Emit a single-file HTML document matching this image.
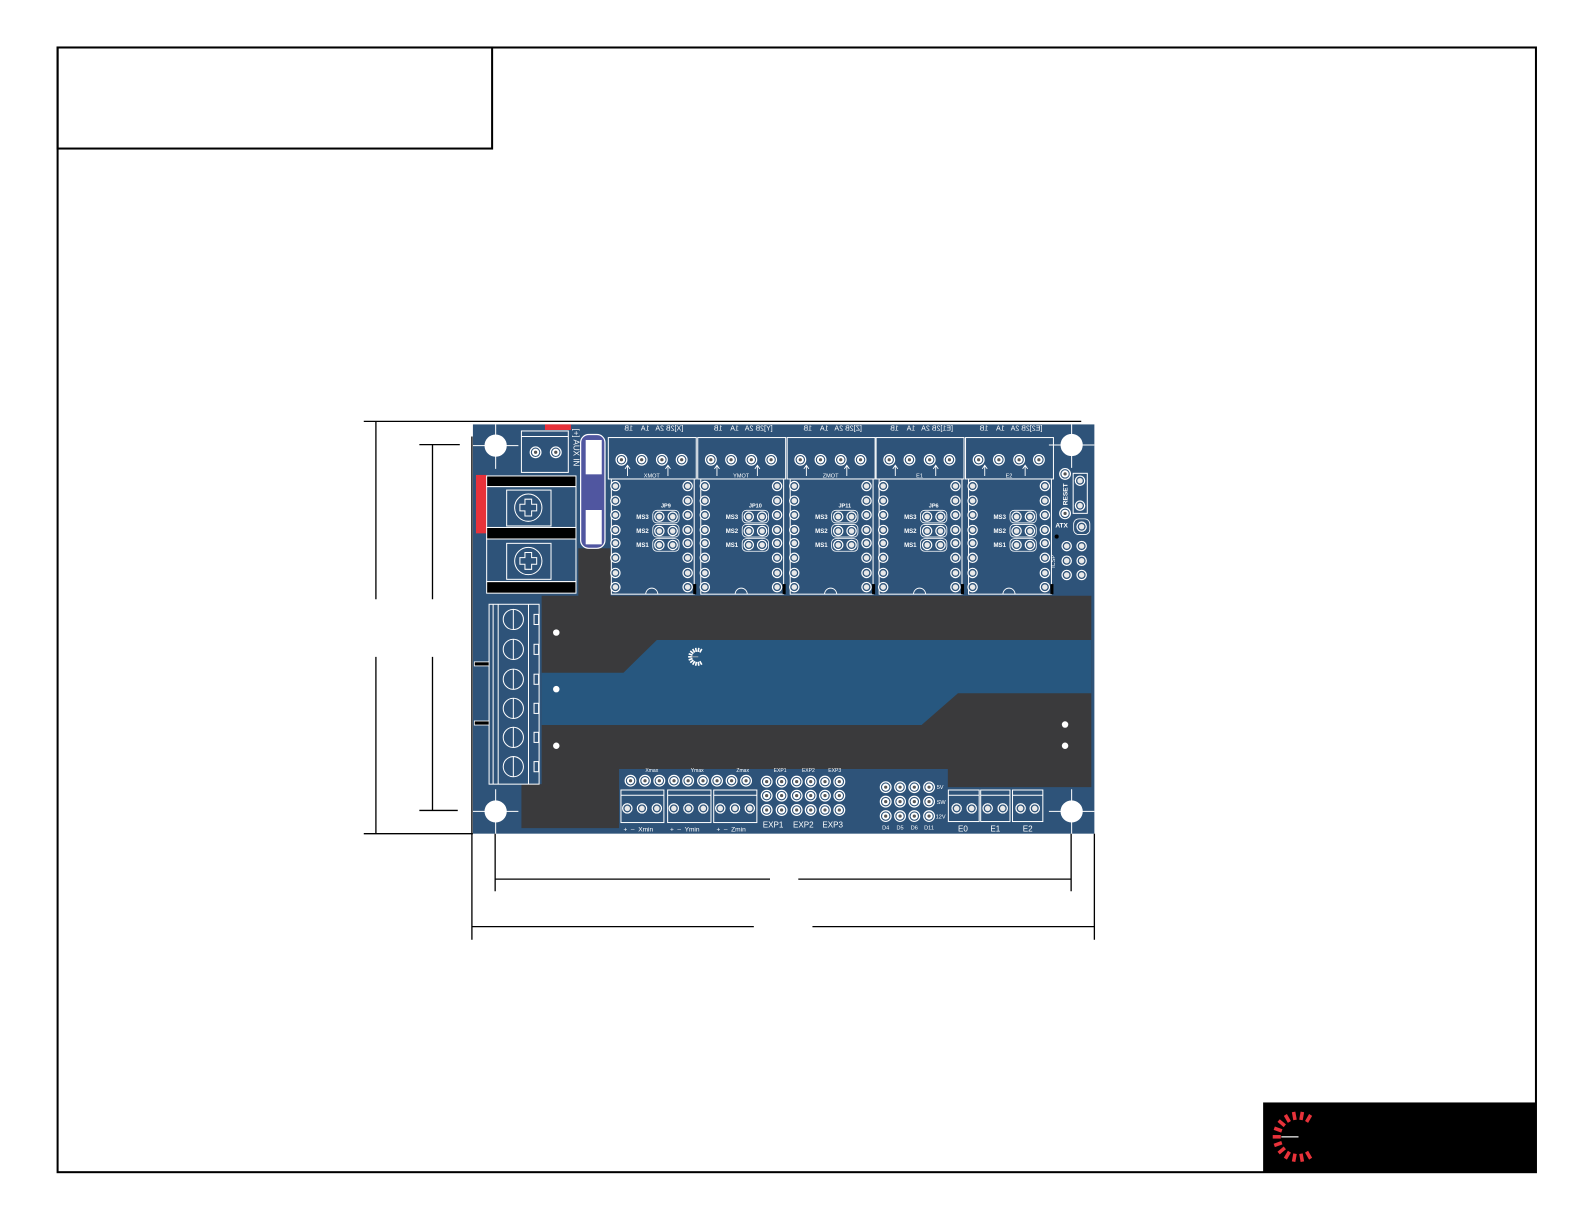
<!DOCTYPE html>
<html><head><meta charset="utf-8"><style>
html,body{margin:0;padding:0;background:#fff;}
svg{display:block;}
text{font-family:"Liberation Sans",sans-serif;fill:#fff;}
</style></head><body>
<svg width="1585" height="1225" viewBox="0 0 1585 1225" xmlns="http://www.w3.org/2000/svg">
<defs>
<g id="h"><circle r="4.6" fill="#2e5379" stroke="#fff" stroke-width="1.2"/><circle r="2.7" fill="#e8e8e8"/></g>
<g id="hb"><circle r="5.3" fill="#2e5379" stroke="#fff" stroke-width="1.2"/><circle r="3.6" fill="#fff"/><circle r="1.6" fill="#555"/></g>
<g id="mod">
 <rect x="-2" y="433" width="87" height="41" fill="none" stroke="#fff" stroke-width="1"/>
 <rect x="1" y="474" width="82" height="114" fill="none" stroke="#fff" stroke-width="1"/>
 <use href="#hb" x="11" y="455"/><use href="#hb" x="31" y="455"/><use href="#hb" x="51" y="455"/><use href="#hb" x="70.6" y="455"/>
 <path d="M17 471V461M14.5 464L17 460.5L19.5 464M57 471V461M54.5 464L57 460.5L59.5 464" stroke="#fff" stroke-width="0.9" fill="none"/>
 <g>
 <use href="#h" x="5" y="481"/><use href="#h" x="5" y="495.5"/><use href="#h" x="5" y="509.6"/><use href="#h" x="5" y="524.5"/><use href="#h" x="5" y="537.5"/><use href="#h" x="5" y="552"/><use href="#h" x="5" y="567"/><use href="#h" x="5" y="581"/>
 <use href="#h" x="76.5" y="481"/><use href="#h" x="76.5" y="495.5"/><use href="#h" x="76.5" y="509.6"/><use href="#h" x="76.5" y="524.5"/><use href="#h" x="76.5" y="537.5"/><use href="#h" x="76.5" y="552"/><use href="#h" x="76.5" y="567"/><use href="#h" x="76.5" y="581"/>
 </g>
 <rect x="42" y="505" width="26" height="12.5" rx="4" fill="none" stroke="#fff" stroke-width="0.8"/>
 <rect x="42" y="519" width="26" height="12.5" rx="4" fill="none" stroke="#fff" stroke-width="0.8"/>
 <rect x="42" y="533" width="26" height="12.5" rx="4" fill="none" stroke="#fff" stroke-width="0.8"/>
 <use href="#h" x="48.5" y="511.3"/><use href="#h" x="61.7" y="511.3"/>
 <use href="#h" x="48.5" y="525.5"/><use href="#h" x="61.7" y="525.5"/>
 <use href="#h" x="48.5" y="539.3"/><use href="#h" x="61.7" y="539.3"/>
 <text x="38" y="513.5" font-size="6" text-anchor="end" font-weight="bold">MS3</text>
 <text x="38" y="527.5" font-size="6" text-anchor="end" font-weight="bold">MS2</text>
 <text x="38" y="541.5" font-size="6" text-anchor="end" font-weight="bold">MS1</text>
 <path d="M35 588A6 6 0 0 1 47 588" fill="none" stroke="#fff" stroke-width="0.9"/>
 <rect x="82" y="578" width="3" height="10" fill="#000"/>
</g>
</defs>
<g transform="scale(1.0105)">
<!-- frame -->
<rect x="57" y="47" width="1463" height="1113" fill="none" stroke="#000" stroke-width="2"/>
<rect x="57" y="47" width="430" height="100" fill="none" stroke="#000" stroke-width="2"/>
<rect x="1250" y="1091" width="270" height="69" fill="#000"/>
<g stroke="#e8323a" stroke-width="3.5">
 <line x1="1301.5" y1="1125" x2="1309.5" y2="1125" transform="rotate(60 1284.5 1125)"/>
 <line x1="1301.5" y1="1125" x2="1309.5" y2="1125" transform="rotate(80 1284.5 1125)"/>
 <line x1="1301.5" y1="1125" x2="1309.5" y2="1125" transform="rotate(100 1284.5 1125)"/>
 <line x1="1301.5" y1="1125" x2="1309.5" y2="1125" transform="rotate(120 1284.5 1125)"/>
 <line x1="1301.5" y1="1125" x2="1309.5" y2="1125" transform="rotate(140 1284.5 1125)"/>
 <line x1="1301.5" y1="1125" x2="1309.5" y2="1125" transform="rotate(160 1284.5 1125)"/>
 <line x1="1301.5" y1="1125" x2="1309.5" y2="1125" transform="rotate(180 1284.5 1125)"/>
 <line x1="1301.5" y1="1125" x2="1309.5" y2="1125" transform="rotate(200 1284.5 1125)"/>
 <line x1="1301.5" y1="1125" x2="1309.5" y2="1125" transform="rotate(220 1284.5 1125)"/>
 <line x1="1301.5" y1="1125" x2="1309.5" y2="1125" transform="rotate(240 1284.5 1125)"/>
 <line x1="1301.5" y1="1125" x2="1309.5" y2="1125" transform="rotate(260 1284.5 1125)"/>
 <line x1="1301.5" y1="1125" x2="1309.5" y2="1125" transform="rotate(280 1284.5 1125)"/>
 <line x1="1301.5" y1="1125" x2="1309.5" y2="1125" transform="rotate(300 1284.5 1125)"/>
</g>
<line x1="1268" y1="1125" x2="1285" y2="1125" stroke="#bbb" stroke-width="1.5"/>

<!-- dimension lines -->
<g stroke="#000" stroke-width="1.3" fill="none">
 <line x1="360" y1="417" x2="1070" y2="417"/>
 <line x1="360" y1="825" x2="468" y2="825"/>
 <line x1="372" y1="417" x2="372" y2="593"/>
 <line x1="372" y1="650" x2="372" y2="825"/>
 <line x1="415" y1="440" x2="455" y2="440"/>
 <line x1="415" y1="802" x2="453" y2="802"/>
 <line x1="428" y1="440" x2="428" y2="593"/>
 <line x1="428" y1="650" x2="428" y2="802"/>
 <line x1="467" y1="432" x2="467" y2="930"/>
 <line x1="1083" y1="825" x2="1083" y2="930"/>
 <line x1="490" y1="825" x2="490" y2="882"/>
 <line x1="1060" y1="825" x2="1060" y2="882"/>
 <line x1="490" y1="870" x2="762" y2="870"/>
 <line x1="790" y1="870" x2="1060" y2="870"/>
 <line x1="467" y1="917" x2="746" y2="917"/>
 <line x1="804" y1="917" x2="1083" y2="917"/>
</g>

<!-- board -->
<rect x="468" y="420" width="615" height="405" fill="#2e5379"/>
<!-- dark copper -->
<path d="M536 589.5H1080V779H938V761H612.6V819.5H516V776H536Z" fill="#3a3a3c"/>
<rect x="572.3" y="542.6" width="32" height="48" fill="#3a3a3c"/>
<path d="M536 665.7H617L650 633.4H1080V686H948L912 717.5H536Z" fill="#27577f"/>
<circle cx="550.5" cy="626" r="3.2" fill="#fff"/>
<circle cx="550.5" cy="682" r="3.2" fill="#fff"/>
<circle cx="550.5" cy="738" r="3.2" fill="#fff"/>
<circle cx="1054" cy="717" r="3.2" fill="#fff"/>
<circle cx="1054" cy="738" r="3.2" fill="#fff"/>
<g stroke="#fff" stroke-width="1.6">
 <line x1="695" y1="650" x2="699" y2="650" transform="rotate(60 690 650)"/>
 <line x1="695" y1="650" x2="699" y2="650" transform="rotate(80 690 650)"/>
 <line x1="695" y1="650" x2="699" y2="650" transform="rotate(100 690 650)"/>
 <line x1="695" y1="650" x2="699" y2="650" transform="rotate(120 690 650)"/>
 <line x1="695" y1="650" x2="699" y2="650" transform="rotate(140 690 650)"/>
 <line x1="695" y1="650" x2="699" y2="650" transform="rotate(160 690 650)"/>
 <line x1="695" y1="650" x2="699" y2="650" transform="rotate(180 690 650)"/>
 <line x1="695" y1="650" x2="699" y2="650" transform="rotate(200 690 650)"/>
 <line x1="695" y1="650" x2="699" y2="650" transform="rotate(220 690 650)"/>
 <line x1="695" y1="650" x2="699" y2="650" transform="rotate(240 690 650)"/>
 <line x1="695" y1="650" x2="699" y2="650" transform="rotate(260 690 650)"/>
 <line x1="695" y1="650" x2="699" y2="650" transform="rotate(280 690 650)"/>
 <line x1="695" y1="650" x2="699" y2="650" transform="rotate(300 690 650)"/>
</g>
<line x1="684" y1="650" x2="691" y2="650" stroke="#bbb" stroke-width="0.8"/>

<!-- red marks -->
<rect x="539.3" y="420" width="25.7" height="5.5" fill="#e8323a"/>
<rect x="471" y="470" width="10.6" height="57.8" fill="#e8323a"/>

<!-- mounting holes -->
<g stroke="#fff" stroke-width="1">
 <circle cx="490.5" cy="441" r="10.5" fill="#fff"/><path d="M468 441H513M490.5 420V464"/>
 <circle cx="1060.5" cy="440.4" r="10.5" fill="#fff"/><path d="M1038 440.4H1083M1060.5 420V463"/>
 <circle cx="490.5" cy="803" r="10.5" fill="#fff"/><path d="M468 803H513M490.5 781V825"/>
 <circle cx="1060.5" cy="803" r="10.5" fill="#fff"/><path d="M1038 803H1083M1060.5 781V825"/>
</g>

<!-- power terminals -->
<g stroke="#fff" stroke-width="1">
 <rect x="481.6" y="471" width="88.4" height="10.6" fill="#000"/>
 <rect x="481.6" y="481.6" width="88.4" height="40.4" fill="#2e5379"/>
 <rect x="501.4" y="485" width="43.9" height="35.5" fill="none"/>
 <circle cx="522.8" cy="502.4" r="13.5" fill="none"/>
 <path d="M519.5 494h6.6v5h5v6.6h-5v5h-6.6v-5h-5v-6.6h5z" fill="none"/>
 <rect x="481.6" y="522" width="88.4" height="11.4" fill="#000"/>
 <rect x="481.6" y="533.4" width="88.4" height="42.2" fill="#2e5379"/>
 <rect x="501.4" y="537.7" width="43.9" height="35.6" fill="none"/>
 <circle cx="522.8" cy="555.2" r="13.5" fill="none"/>
 <path d="M519.5 546.8h6.6v5h5v6.6h-5v5h-6.6v-5h-5v-6.6h5z" fill="none"/>
 <rect x="481.6" y="575.6" width="88.4" height="11.4" fill="#000"/>
</g>

<!-- AUX -->
<g stroke="#fff" stroke-width="1" fill="none">
 <rect x="516" y="426.5" width="46.4" height="41"/>
 <line x1="516" y1="432" x2="562.4" y2="432"/>
</g>
<use href="#hb" x="530" y="447.6"/><use href="#hb" x="550" y="447.6"/>
<text x="0" y="0" font-size="8" transform="translate(567.5,424) rotate(90)">[+] AUX IN</text>

<!-- fuse -->
<rect x="574.6" y="430" width="24.1" height="112.6" rx="8" fill="#5056a0" stroke="#fff" stroke-width="1.2"/>
<rect x="579.6" y="435.4" width="15.9" height="34" fill="#fff"/>
<rect x="579.6" y="504.7" width="15.9" height="34" fill="#fff"/>

<!-- stepper modules -->
<use href="#mod" x="604"/>
<use href="#mod" x="692.5"/>
<use href="#mod" x="781"/>
<use href="#mod" x="869"/>
<use href="#mod" x="957.5"/>
<g font-size="7">
 <text transform="translate(647,426) scale(-1,1)" text-anchor="middle">[X]2B 2A&#160;&#160; 1A&#160;&#160;&#160; 1B</text>
 <text transform="translate(735.5,426) scale(-1,1)" text-anchor="middle">[Y]2B 2A&#160;&#160; 1A&#160;&#160;&#160; 1B</text>
 <text transform="translate(824,426) scale(-1,1)" text-anchor="middle">[Z]2B 2A&#160;&#160; 1A&#160;&#160;&#160; 1B</text>
 <text transform="translate(912,426) scale(-1,1)" text-anchor="middle">[E1]2B 2A&#160;&#160; 1A&#160;&#160;&#160; 1B</text>
 <text transform="translate(1000.5,426) scale(-1,1)" text-anchor="middle">[E2]2B 2A&#160;&#160; 1A&#160;&#160;&#160; 1B</text>
</g>
<g font-size="5.5" text-anchor="middle">
 <text x="645" y="472.5">XMOT</text><text x="733.5" y="472.5">YMOT</text><text x="822" y="472.5">ZMOT</text><text x="910" y="472.5">E1</text><text x="998.5" y="472.5">E2</text>
 <text x="659" y="502" font-weight="bold">JP9</text><text x="747.5" y="502" font-weight="bold">JP10</text><text x="836" y="502" font-weight="bold">JP11</text><text x="924" y="502" font-weight="bold">JP6</text>
</g>

<!-- right side -->
<rect x="1062" y="468.4" width="14" height="39.6" fill="none" stroke="#fff" stroke-width="1"/>
<use href="#hb" x="1054" y="469"/><use href="#hb" x="1054" y="508"/>
<use href="#h" x="1068.8" y="475.7"/><use href="#h" x="1068.8" y="500.4"/>
<text transform="translate(1056.5,500) rotate(-90)" font-size="6.5" font-weight="bold">RESET</text>
<text x="1050.6" y="522" font-size="6.5" font-weight="bold" text-anchor="middle">ATX</text>
<rect x="1062.5" y="513.5" width="16" height="15.5" rx="5" fill="none" stroke="#fff" stroke-width="0.8"/>
<use href="#h" x="1070.4" y="521.2"/>
<circle cx="1045.7" cy="531" r="2" fill="#000"/>
<g>
 <use href="#h" x="1055.6" y="540.4"/><use href="#h" x="1070.4" y="540.4"/>
 <use href="#h" x="1055.6" y="554.9"/><use href="#h" x="1070.4" y="554.9"/>
 <use href="#h" x="1055.6" y="569"/><use href="#h" x="1070.4" y="569"/>
</g>
<text transform="translate(1044,562) rotate(-90)" font-size="5.5">ICSP</text>

<!-- left screw terminal -->
<g stroke="#fff" stroke-width="1" fill="none">
 <rect x="484" y="598" width="49.5" height="178"/>
 <line x1="488" y1="598" x2="488" y2="776"/>
 <line x1="493" y1="598" x2="493" y2="776"/>
 <line x1="523" y1="598" x2="523" y2="776"/>
 <circle cx="508" cy="613" r="10"/><line x1="508" y1="603" x2="508" y2="623"/>
 <circle cx="508" cy="642.6" r="10"/><line x1="508" y1="632.6" x2="508" y2="652.6"/>
 <circle cx="508" cy="672.2" r="10"/><line x1="508" y1="662.2" x2="508" y2="682.2"/>
 <circle cx="508" cy="701" r="10"/><line x1="508" y1="691" x2="508" y2="711"/>
 <circle cx="508" cy="729.7" r="10"/><line x1="508" y1="719.7" x2="508" y2="739.7"/>
 <circle cx="508" cy="758.7" r="10"/><line x1="508" y1="748.7" x2="508" y2="768.7"/>
 <rect x="528.5" y="608" width="4.5" height="10"/><rect x="528.5" y="637.6" width="4.5" height="10"/><rect x="528.5" y="667.2" width="4.5" height="10"/><rect x="528.5" y="696" width="4.5" height="10"/><rect x="528.5" y="724.7" width="4.5" height="10"/><rect x="528.5" y="753.7" width="4.5" height="10"/>
</g>
<rect x="469.4" y="655" width="14.6" height="4" fill="#000" stroke="#fff" stroke-width="0.8"/>
<rect x="469.4" y="713.5" width="14.6" height="4" fill="#000" stroke="#fff" stroke-width="0.8"/>

<!-- bottom connectors -->
<g>
 <use href="#hb" x="624" y="772.6"/><use href="#hb" x="638.3" y="772.6"/><use href="#hb" x="652.5" y="772.6"/><use href="#hb" x="667" y="772.6"/><use href="#hb" x="681" y="772.6"/><use href="#hb" x="695.7" y="772.6"/><use href="#hb" x="709.6" y="772.6"/><use href="#hb" x="724" y="772.6"/><use href="#hb" x="738.3" y="772.6"/>
</g>
<g font-size="5" text-anchor="middle"><text x="645" y="764">Xmax</text><text x="690" y="764">Ymax</text><text x="735" y="764">Zmax</text><text x="772" y="764">EXP1</text><text x="800" y="764">EXP2</text><text x="826" y="764">EXP3</text></g>
<g stroke="#fff" stroke-width="1" fill="none">
 <rect x="614.5" y="781.8" width="42.5" height="32.2"/><line x1="614.5" y1="787" x2="657" y2="787"/>
 <rect x="660.7" y="781.8" width="42.9" height="32.2"/><line x1="660.7" y1="787" x2="703.6" y2="787"/>
 <rect x="706.3" y="781.8" width="42.7" height="32.2"/><line x1="706.3" y1="787" x2="749" y2="787"/>
 <rect x="938.5" y="781.8" width="30.5" height="31.2"/><line x1="938.5" y1="787" x2="969" y2="787"/>
 <rect x="970.5" y="781.8" width="29" height="31.2"/><line x1="970.5" y1="787" x2="999.5" y2="787"/>
 <rect x="1002" y="781.8" width="30" height="31.2"/><line x1="1002" y1="787" x2="1032" y2="787"/>
</g>
<g>
 <use href="#h" x="620.8" y="800"/><use href="#h" x="635.3" y="800"/><use href="#h" x="650" y="800"/>
 <use href="#h" x="666.8" y="800"/><use href="#h" x="681.3" y="800"/><use href="#h" x="696" y="800"/>
 <use href="#h" x="712.8" y="800"/><use href="#h" x="727.3" y="800"/><use href="#h" x="742" y="800"/>
 <use href="#h" x="946.7" y="800"/><use href="#h" x="961.6" y="800"/>
 <use href="#h" x="977.4" y="800"/><use href="#h" x="992.3" y="800"/>
 <use href="#h" x="1010" y="800"/><use href="#h" x="1024" y="800"/>
</g>
<g>
 <use href="#hb" x="758.7" y="773.5"/><use href="#hb" x="773.5" y="773.5"/><use href="#hb" x="788.4" y="773.5"/><use href="#hb" x="802.3" y="773.5"/><use href="#hb" x="816.4" y="773.5"/><use href="#hb" x="830.6" y="773.5"/>
 <use href="#hb" x="758.7" y="787.4"/><use href="#hb" x="773.5" y="787.4"/><use href="#hb" x="788.4" y="787.4"/><use href="#hb" x="802.3" y="787.4"/><use href="#hb" x="816.4" y="787.4"/><use href="#hb" x="830.6" y="787.4"/>
 <use href="#hb" x="758.7" y="801.6"/><use href="#hb" x="773.5" y="801.6"/><use href="#hb" x="788.4" y="801.6"/><use href="#hb" x="802.3" y="801.6"/><use href="#hb" x="816.4" y="801.6"/><use href="#hb" x="830.6" y="801.6"/>
 <use href="#hb" x="876.5" y="779"/><use href="#hb" x="890.7" y="779"/><use href="#hb" x="904.8" y="779"/><use href="#hb" x="919.4" y="779"/>
 <use href="#hb" x="876.5" y="793.3"/><use href="#hb" x="890.7" y="793.3"/><use href="#hb" x="904.8" y="793.3"/><use href="#hb" x="919.4" y="793.3"/>
 <use href="#hb" x="876.5" y="807.6"/><use href="#hb" x="890.7" y="807.6"/><use href="#hb" x="904.8" y="807.6"/><use href="#hb" x="919.4" y="807.6"/>
</g>
<g font-size="8" text-anchor="middle"><text x="765" y="819">EXP1</text><text x="795" y="819">EXP2</text><text x="824" y="819">EXP3</text>
 <text x="953" y="823">E0</text><text x="985" y="823">E1</text><text x="1017" y="823">E2</text></g>
<g font-size="5.5"><text x="927" y="781">5V</text><text x="927" y="795.5">SW</text><text x="926" y="810">12V</text></g>
<g font-size="5.5" text-anchor="middle"><text x="876.5" y="821">D4</text><text x="890.7" y="821">D5</text><text x="904.8" y="821">D6</text><text x="919.4" y="821">D11</text></g>
<g font-size="6.5"><text x="617" y="823">+&#160; –&#160; Xmin</text><text x="663" y="823">+&#160; –&#160; Ymin</text><text x="709" y="823">+&#160; –&#160; Zmin</text></g>
</g>
</svg>
</body></html>
